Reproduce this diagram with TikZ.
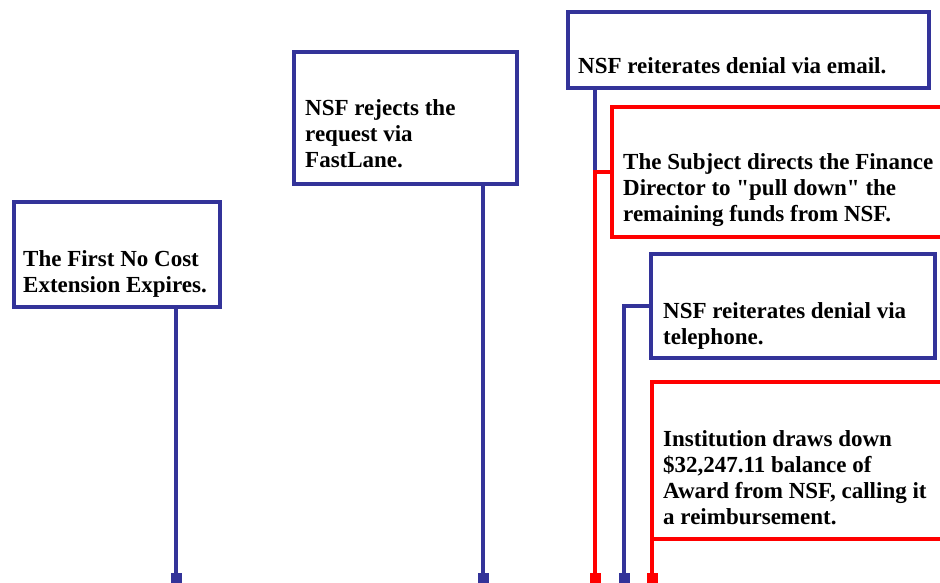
\documentclass[tikz,border=0pt]{standalone}
\usepackage{fontspec}
\setmainfont{Liberation Serif}
\usetikzlibrary{arrows.meta,positioning}
\definecolor{nsfblue}{RGB}{51,51,153}
\definecolor{nsfred}{RGB}{255,0,0}

\begin{document}
\begin{tikzpicture}[x=1pt,y=1pt,
    event/.style={draw=#1, line width=4pt, fill=white, outer sep=0pt, inner sep=0pt, anchor=north west},
    evtext/.style={inner sep=0pt, align=left, font=\fontsize{23}{26.3}\selectfont\bfseries},
    stem/.style={draw=#1, line width=4pt, -{Square[length=11pt,width=11pt,#1]}}]
      \useasboundingbox (0,0) rectangle (940,582);
      \clip (0,0) rectangle (940,582);
      % the boxes, blue for NSF side, red for the institution
      \node [event=nsfblue, minimum width=206pt, minimum height=105pt] (ext) at (14,380) {};
      \node [evtext, above right=6pt and 9pt of ext.south west] (ext-txt) {The First No Cost\\Extension Expires.\strut};
      \node [event=nsfblue, minimum width=223pt, minimum height=132pt] (rej) at (294,530) {};
      \node [evtext, above right=8pt and 11pt of rej.south west] (rej-txt) {NSF rejects the\\request via\\FastLane.\strut};
      \node [event=nsfblue, minimum width=361pt, minimum height=76pt] (mail) at (568,570) {};
      \node [evtext, above right=6pt and 10pt of mail.south west] (mail-txt) {NSF reiterates denial via email.\strut};
      \node [event=nsfred, minimum width=360pt, minimum height=130pt] (pull) at (612,475) {};
      \node [evtext, above right=7pt and 11pt of pull.south west] (pull-txt) {The Subject directs the Finance\\Director to \textquotedbl pull down\textquotedbl\ the\\remaining funds from NSF.\strut};
      \node [event=nsfblue, minimum width=284pt, minimum height=104pt] (tel) at (651,328) {};
      \node [evtext, above right=5pt and 12pt of tel.south west] (tel-txt) {NSF reiterates denial via\\telephone.\strut};
      \node [event=nsfred, minimum width=320pt, minimum height=157pt] (inst) at (652,200) {};
      \node [evtext, above right=6pt and 11pt of inst.south west] (inst-txt) {Institution draws down\\\$32,247.11 balance of\\Award from NSF, calling it\\a reimbursement.\strut};
      % free ends below the page
      \coordinate (ext-end) at (176,-2);
      \coordinate (rej-end) at (483,-2);
      \coordinate (pull-end) at (595,-2);
      \coordinate (tel-end) at (624,-2);
      \coordinate (inst-end) at (652,-2);
      % the stems
      \draw [stem=nsfblue] (ext.south -| ext-end) -- (ext-end);
      \draw [stem=nsfblue] (rej.south -| rej-end) -- (rej-end);
      \draw [nsfblue, line width=4pt] (mail.south -| pull-end) -- (pull.west -| pull-end);
      \draw [stem=nsfred] (pull.west) -| (pull-end);
      \draw [stem=nsfblue] (tel.west) -| (tel-end);
      \draw [stem=nsfred] (inst.south west) -- (inst-end);
\end{tikzpicture}
\end{document}
